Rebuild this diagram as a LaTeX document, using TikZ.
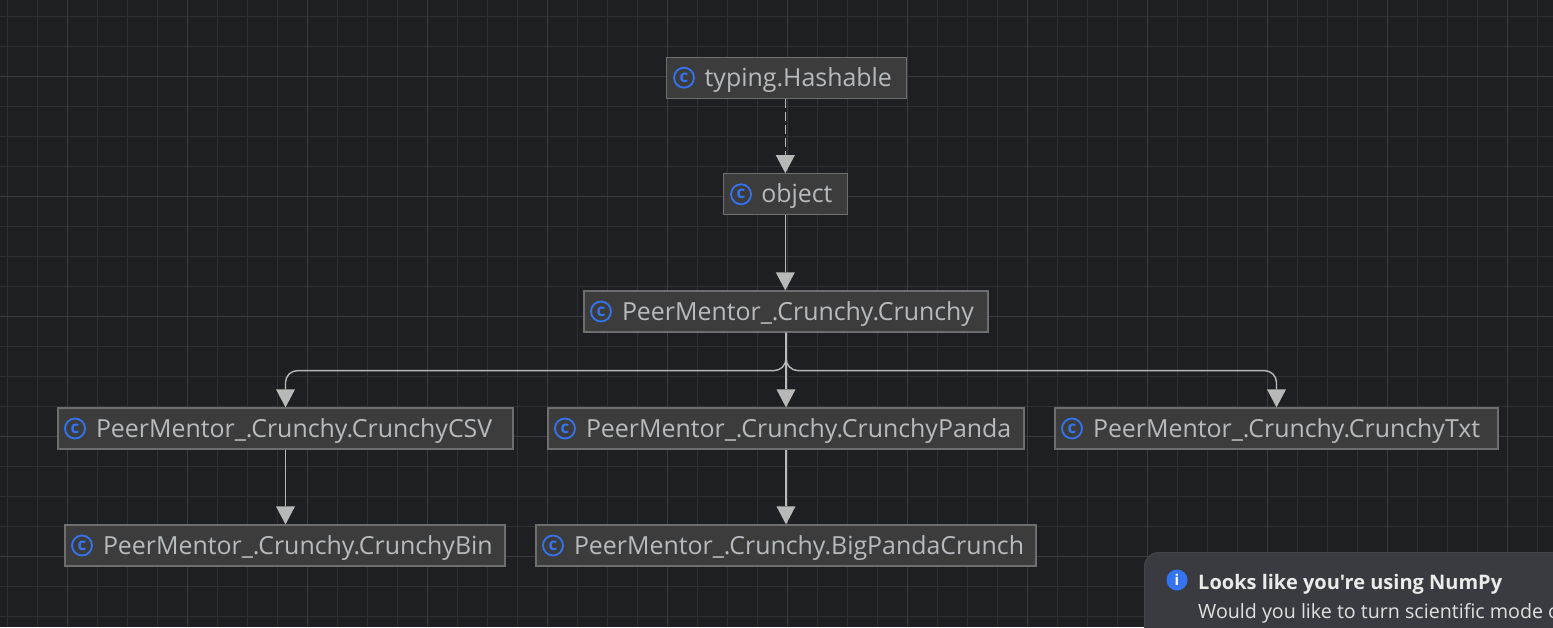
\documentclass[tikz,border=0pt]{standalone}
\usepackage{fontspec}
\setmainfont{Open Sans}
\newfontfamily\toastfont{Open Sans}
\usetikzlibrary{arrows.meta}
\definecolor{bgc}{HTML}{1E1F22}
\definecolor{gridminor}{HTML}{2F3033}
\definecolor{gridmajor}{HTML}{3A3B3D}
\definecolor{boxfill}{HTML}{3C3C3C}
\definecolor{boxedge}{HTML}{6E6E6E}
\definecolor{labelc}{HTML}{B8BBBE}
\definecolor{edgec}{HTML}{B8B8B8}
\definecolor{iconblue}{HTML}{3574F0}
\definecolor{toastfill}{HTML}{393B40}
\definecolor{toastedge}{HTML}{43454A}
\tikzset{
  x=1pt,y=-1pt,
  cls/.style={draw=boxedge,line width=1.2pt,fill=boxfill,text=labelc,font=\fontsize{24.9}{30}\selectfont,
    inner xsep=0pt,inner ysep=0pt,minimum height=41pt,text width=#1pt,align=left,text height=21pt,text depth=4pt},
  classicon/.style={circle,draw=iconblue,line width=1.8pt,minimum size=20pt,inner sep=0pt,text=iconblue,font=\fontsize{17}{17}\selectfont\bfseries},
  rel/.style={draw=edgec,line width=1.6pt,-{Triangle[length=18pt,width=19pt,fill=edgec,line width=0pt]}},
  reldash/.style={rel,dash pattern=on 9pt off 4pt},
  branch/.style={rel,line width=1.4pt,rounded corners=12pt},
}
\newcommand{\lbl}[1]{\hspace*{38pt}#1}
\begin{document}
\begin{tikzpicture}
\useasboundingbox (0,0) rectangle (1553,627);
\clip (0,0) rectangle (1553,627);
\fill[bgc] (0,0) rectangle (1553,627);
\foreach \xx in {7.3,37.3,...,1553}{\draw[gridminor,line width=1pt] (\xx,0) -- (\xx,627);}
\foreach \yy in {16.3,46.3,...,627}{\draw[gridminor,line width=1pt] (0,\yy) -- (1553,\yy);}
\foreach \xx in {67.3,187.3,...,1553}{\draw[gridmajor,line width=1pt] (\xx,0) -- (\xx,627);}
\foreach \yy in {76.3,196.3,...,627}{\draw[gridmajor,line width=1pt] (0,\yy) -- (1553,\yy);}

\node[cls=240] (hash) at (786.7,77.7) {\lbl{typing.Hashable}};
\node[cls=124] (obj) at (785.3,194.3) {\lbl{object}};
\node[cls=404] (crunchy) at (786,311.5) {\lbl{PeerMentor\_.Crunchy.Crunchy}};
\node[cls=455] (csv) at (285.5,428.5) {\lbl{PeerMentor\_.Crunchy.CrunchyCSV}};
\node[cls=476] (panda) at (786,428.5) {\lbl{PeerMentor\_.Crunchy.CrunchyPanda}};
\node[cls=443] (txt) at (1276.5,428.5) {\lbl{PeerMentor\_.Crunchy.CrunchyTxt}};
\node[cls=440] (bin) at (285,545.5) {\lbl{PeerMentor\_.Crunchy.CrunchyBin}};
\node[cls=500] (big) at (786,545.5) {\lbl{PeerMentor\_.Crunchy.BigPandaCrunch}};

\node[classicon] (ihash) at (684,77.7) {c};
\node[classicon] (iobj) at (741,194.3) {c};
\node[classicon] (icrunchy) at (601,311.5) {c};
\node[classicon] (icsv) at (75,428.5) {c};
\node[classicon] (ipanda) at (565,428.5) {c};
\node[classicon] (itxt) at (1072,428.5) {c};
\node[classicon] (ibin) at (82,545.5) {c};
\node[classicon] (ibig) at (553,545.5) {c};

\draw[reldash] (obj.north |- hash.south) -- (obj.north);
\draw[rel] (obj.south) -- (crunchy.north -| obj.south);
\draw[rel] (crunchy.south) -- (panda.north);
\draw[rel] (csv.south) -- (bin.north -| csv.south);
\draw[rel] (panda.south) -- (big.north);
\draw[branch] (crunchy.south) -- ++(0,38) -| (csv.north);
\draw[branch] (crunchy.south) -- ++(0,38) -| (txt.north);

\filldraw[fill=toastfill,draw=toastedge,line width=1pt,rounded corners=14pt] (1144.5,552.5) rectangle (1600,680);
\node[circle,fill=iconblue,minimum size=21pt,inner sep=0pt,text=white,font=\fontsize{15}{15}\selectfont\bfseries] (info) at (1177,580) {i};
\node[anchor=base west,inner sep=0pt,text=white!92!black,font=\toastfont\fontsize{20}{24}\selectfont\bfseries] (t1) at (1198,589) {Looks like you're using NumPy};
\node[anchor=base west,inner sep=0pt,text=white!88!black,font=\toastfont\fontsize{19.65}{24}\selectfont] (t2) at (1198,618) {Would you like to turn scientific mode o};
\end{tikzpicture}
\end{document}
